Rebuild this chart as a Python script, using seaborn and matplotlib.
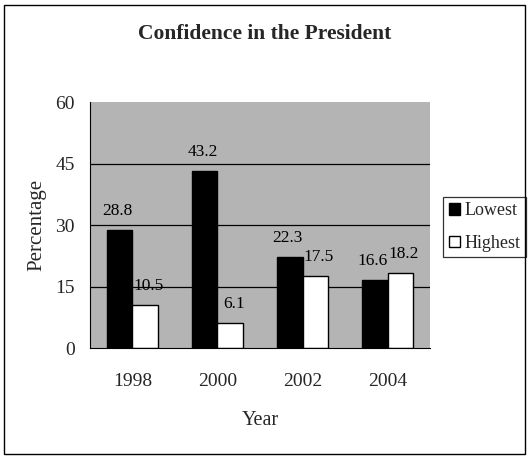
import pandas as pd
import matplotlib.pyplot as plt
import seaborn as sns
from matplotlib.patches import Rectangle

years = ["1998", "2000", "2002", "2004"]
lowest = [28.8, 43.2, 22.3, 16.6]
highest = [10.5, 6.1, 17.5, 18.2]
series_names = ["Lowest", "Highest"]

df = pd.DataFrame({
    "Year": years * 2,
    "Percentage": lowest + highest,
    "Series": [series_names[0]] * len(years) + [series_names[1]] * len(years),
})

sns.set_style("white")
plt.rcParams['font.family'] = ['Liberation Serif', 'DejaVu Serif']

fig = plt.figure(figsize=(5.29, 4.58), dpi=100)
ax = fig.add_axes([0.170, 0.240, 0.643, 0.537])
ax.set_facecolor("#b4b4b4")

sns.barplot(data=df, x="Year", y="Percentage", hue="Series", hue_order=series_names,
            palette=["black", "white"], edgecolor="black", linewidth=1.0,
            width=0.6, ax=ax, legend=True)

for yv in [15, 30, 45]:
    ax.axhline(yv, color="black", lw=0.9, zorder=0.5)

# value labels above each bar (lowest nudged left, highest nudged right)
for cont, dx in zip(ax.containers, [-1.5, 2.5]):
    for bar in cont:
        h = bar.get_height()
        ax.annotate(f"{h:g}", (bar.get_x() + bar.get_width() / 2, h),
                    xytext=(dx, 8), textcoords="offset points",
                    ha="center", va="bottom", fontsize=12.5, color="black")

ax.set_ylim(0, 60)
ax.set_xlim(-0.5, 3.5)
ax.set_yticks([0, 15, 30, 45, 60])
ax.set_xticks(range(len(years)))
ax.set_xticklabels(years)
ax.set_xticks([0.5, 1.5, 2.5], minor=True)
ax.tick_params(axis="y", which="major", direction="out", length=5, width=1, labelsize=14, pad=6)
ax.tick_params(axis="x", which="major", length=0, labelsize=14, pad=18)
ax.tick_params(axis="x", which="minor", direction="out", length=5, width=1)
for s in ["top", "right"]:
    ax.spines[s].set_visible(False)
ax.spines["left"].set_color("black")
ax.spines["bottom"].set_color("black")

ax.set_xlabel("Year", fontsize=14.5, labelpad=15)
ax.set_ylabel("Percentage", fontsize=15, labelpad=6)
fig.text(0.5, 0.926, "Confidence in the President", ha="center", va="center",
         fontsize=15.5, fontweight="bold")

leg = ax.legend(loc="center left", bbox_to_anchor=(0.838, 0.504), bbox_transform=fig.transFigure,
                frameon=True, fancybox=False, edgecolor="black", fontsize=13,
                handlelength=0.6, handleheight=0.6, handletextpad=0.3, borderpad=0.3,
                borderaxespad=0, labelspacing=0.85)
leg.get_frame().set_linewidth(0.9)

fig.patches.append(Rectangle((0.008, 0.008), 0.984, 0.982, transform=fig.transFigure,
                             fill=False, edgecolor="black", lw=1.0))

fig.savefig("out.png", dpi=100, facecolor="white")
